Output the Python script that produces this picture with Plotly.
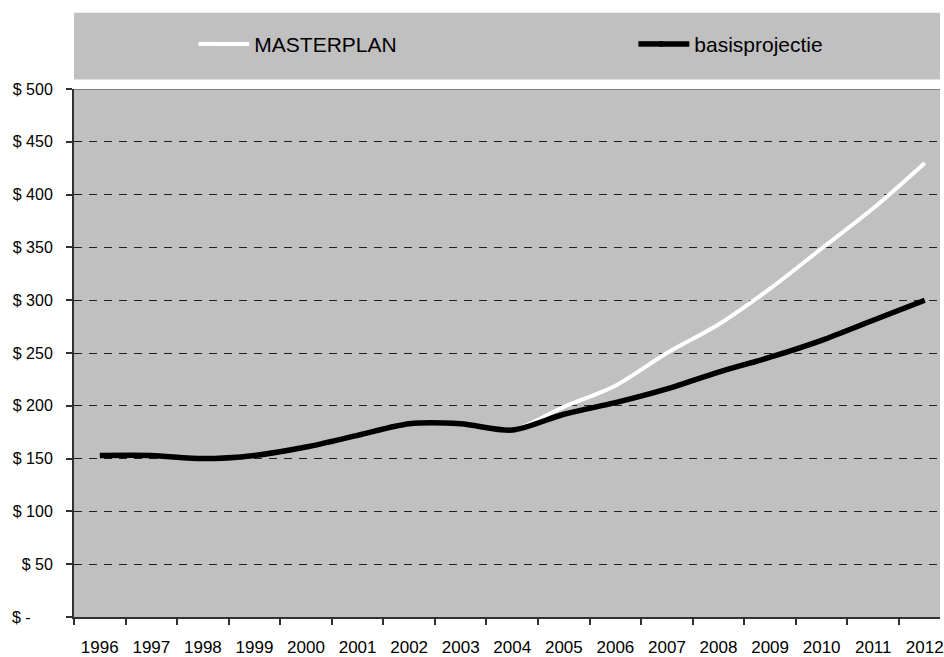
import plotly.graph_objects as go

years = list(range(1996, 2013))
year_labels = [str(y) for y in years]
masterplan = [153, 153, 150, 153, 161, 172, 183, 183, 177, 199, 219, 250, 277, 311, 349, 387, 430]
basisprojectie = [153, 153, 150, 153, 161, 172, 183, 183, 177, 192, 203, 216, 232, 246, 262, 281, 300]
y_ticks = [0, 50, 100, 150, 200, 250, 300, 350, 400, 450, 500]
y_labels = ["$ -\u00a0\u00a0\u00a0\u00a0\u00a0"] + ["$ " + str(v) for v in y_ticks[1:]]

FONT = "Liberation Sans, Arial, sans-serif"
W, H = 944, 657
L, R, T, B = 74, 0, 89, 35
plot_w = W - L - R
plot_h = H - T - B
step = 51.8  # px per category

fig = go.Figure()
fig.add_trace(go.Scatter(
    x=years, y=masterplan, mode="lines", name="MASTERPLAN", legend="legend",
    line=dict(color="white", width=4, shape="spline", smoothing=0.8),
))
fig.add_trace(go.Scatter(
    x=years, y=basisprojectie, mode="lines", name="basisprojectie", legend="legend2",
    line=dict(color="black", width=5.5, shape="spline", smoothing=0.8),
))

def py(px_from_top):
    return (H - B - px_from_top) / plot_h

def px(px_from_left):
    return (px_from_left - L) / plot_w

leg_common = dict(
    orientation="h", yanchor="middle", y=py(44), xanchor="left",
    font=dict(size=21, family=FONT, color="black"),
    bgcolor="rgba(0,0,0,0)", borderwidth=0,
)

fig.update_layout(
    width=W, height=H,
    margin=dict(l=L, r=R, t=T, b=B),
    paper_bgcolor="white",
    plot_bgcolor="#C0C0C0",
    font=dict(family=FONT, color="black"),
    showlegend=True,
    legend=dict(x=px(215), **leg_common),
    legend2=dict(x=px(657), **leg_common),
    shapes=[
        dict(type="rect", xref="paper", yref="paper",
             x0=0, x1=1, y0=py(79.5), y1=py(12),
             fillcolor="#C0C0C0", line=dict(width=0), layer="below"),
        dict(type="line", xref="paper", yref="y",
             x0=0, x1=1, y0=500, y1=500,
             line=dict(color="#808080", width=2), layer="above"),
        # lengthen the legend samples to the reference's longer keys
        dict(type="line", xref="paper", yref="paper",
             x0=px(199), x1=px(224), y0=py(43.5), y1=py(43.5),
             line=dict(color="white", width=4)),
        dict(type="line", xref="paper", yref="paper",
             x0=px(641), x1=px(666), y0=py(43.5), y1=py(43.5),
             line=dict(color="black", width=5.5)),
    ],
)

fig.update_xaxes(
    range=[1995.5, 1995.5 + plot_w / step],
    tickmode="array", tickvals=years, ticktext=year_labels,
    ticks="outside", ticklen=6, tickcolor="rgba(0,0,0,0)",
    ticklabelstandoff=8, ticklabeloverflow="allow",
    tickfont=dict(size=17, family=FONT, color="black"),
    showgrid=False, zeroline=False,
    showline=True, linecolor="#303030", linewidth=2,
    minor=dict(tickmode="array", tickvals=[y - 0.5 for y in years] + [2012.5],
               ticks="outside", ticklen=6, tickcolor="#303030", tickwidth=1.5,
               showgrid=False),
    fixedrange=True,
)
fig.update_yaxes(
    range=[0, 500],
    tickmode="array", tickvals=y_ticks, ticktext=y_labels,
    ticks="outside", ticklen=6, tickcolor="#303030", tickwidth=1.5,
    ticklabelstandoff=10,
    tickfont=dict(size=16, family=FONT, color="black"),
    showgrid=True, gridcolor="#202020", gridwidth=1, griddash="8px,7px",
    zeroline=False,
    showline=True, linecolor="#303030", linewidth=2,
    fixedrange=True,
)

fig.write_html("out.html")
